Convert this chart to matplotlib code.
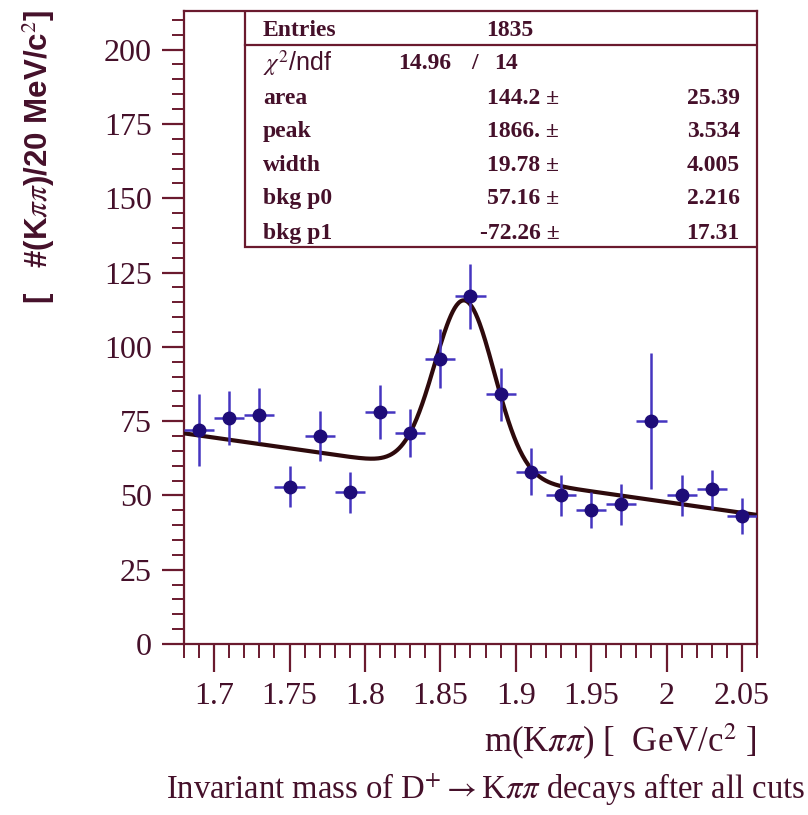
import numpy as np
import matplotlib
matplotlib.use('Agg')
import matplotlib.pyplot as plt
from matplotlib.patches import Rectangle
from matplotlib.ticker import MultipleLocator

plt.rcParams['mathtext.fontset'] = 'stix'

# bin centres (GeV) and contents
mass = [1.69, 1.71, 1.73, 1.75, 1.77, 1.79, 1.81, 1.83, 1.85, 1.87,
        1.89, 1.91, 1.93, 1.95, 1.97, 1.99, 2.01, 2.03, 2.05]
counts = [72, 76, 77, 53, 70, 51, 78, 71, 96, 117,
          84, 58, 50, 45, 47, 75, 50, 52, 43]
errors = [12, 9, 9, 7, 8.5, 7, 9, 8, 10, 11,
          9, 8, 7, 6, 7, 23, 7, 6.5, 6]
bin_half = 0.01

# fit parameters from the stats box
fit_area = 144.2
fit_peak = 1866.0      # MeV
fit_width = 19.78      # MeV
bkg_p0 = 57.16
bkg_p1 = -72.26
bkg_ref = 1.87         # GeV

stat_labels = ['area', 'peak', 'width', 'bkg p0', 'bkg p1']
stat_values = ['144.2 \u00b1', '1866. \u00b1', '19.78 \u00b1', '57.16 \u00b1', '-72.26 \u00b1']
stat_errors = ['25.39', '3.534', '4.005', '2.216', '17.31']

text_col = '#45102a'
frame_col = '#6a1a2e'
serif = 'Liberation Serif'

fig = plt.figure(figsize=(8.08, 8.15), dpi=100)
ax = fig.add_axes([0.2277, 0.2098, 0.7092, 0.7767])

# fit curve: gaussian (area per 20 MeV bin) + linear background
m = np.linspace(1.68, 2.06, 600)
amp = fit_area * 20.0 / (np.sqrt(2 * np.pi) * fit_width)
fit = bkg_p0 + bkg_p1 * (m - bkg_ref) + amp * np.exp(-0.5 * ((m * 1000 - fit_peak) / fit_width) ** 2)
ax.plot(m, fit, color='#2e0a0c', lw=3.0, zorder=3)

ax.errorbar(mass, counts, yerr=errors, xerr=bin_half, fmt='o', color='#1e0c78',
            ecolor='#4535c0', elinewidth=1.8, capsize=0, markersize=9, zorder=4)

ax.set_xlim(1.68, 2.06)
ax.set_ylim(0, 213)
ax.xaxis.set_minor_locator(MultipleLocator(0.01))
ax.yaxis.set_major_locator(MultipleLocator(25))
ax.yaxis.set_minor_locator(MultipleLocator(5))
ax.set_xticks([1.7, 1.75, 1.8, 1.85, 1.9, 1.95, 2.0, 2.05])
ax.set_xticklabels(['1.7', '1.75', '1.8', '1.85', '1.9', '1.95', '2', '2.05'])

for side in ax.spines.values():
    side.set_color(frame_col)
    side.set_linewidth(1.6)

ax.tick_params(axis='both', which='major', direction='out', width=1.6,
               color=frame_col, labelcolor=text_col, labelsize=23)
ax.tick_params(axis='both', which='minor', direction='out', width=1.4,
               color=frame_col)
ax.tick_params(axis='x', which='major', length=20, pad=7)
ax.tick_params(axis='x', which='minor', length=10)
ax.tick_params(axis='y', which='major', length=16, pad=7)
ax.tick_params(axis='y', which='minor', length=9)
for lab in ax.get_xticklabels() + ax.get_yticklabels():
    lab.set_fontfamily(serif)

# stats box
ax.add_patch(Rectangle((0.1065, 0.627), 0.8935, 0.373, transform=ax.transAxes,
                       facecolor='white', edgecolor=frame_col, lw=1.6, zorder=5))
ax.plot([0.1065, 1.0], [0.946, 0.946], transform=ax.transAxes, color=frame_col,
        lw=1.6, zorder=6)

def row_y(py):
    return (644 - py) / 633.0

box_font = dict(transform=ax.transAxes, fontsize=17, color=text_col, family=serif,
                weight='bold', va='center', zorder=7)
ax.text(0.138, row_y(30), 'Entries', **box_font)
ax.text(0.569, row_y(30), '1835', ha='center', **box_font)
ax.text(0.138, row_y(63), r'$\chi^2$/ndf', transform=ax.transAxes, fontsize=18, color=text_col,
        family='Liberation Sans', va='center', zorder=7)
ax.text(0.466, row_y(63), '14.96', ha='right', **box_font)
ax.text(0.507, row_y(63), '/', ha='center', **box_font)
ax.text(0.562, row_y(63), '14', ha='center', **box_font)

row_px = [98, 131, 165, 198, 233]
for lab, val, err, py in zip(stat_labels, stat_values, stat_errors, row_px):
    ax.text(0.138, row_y(py), lab, **box_font)
    ax.text(0.655, row_y(py), val, ha='right', **box_font)
    ax.text(0.970, row_y(py), err, ha='right', **box_font)

# axis titles
fig.text(0.048, 0.988, r'[   #(K$\pi\pi$)/20 MeV/c$^2$]', rotation=90, ha='center', va='top',
         fontsize=22.5, color=text_col, family='Liberation Sans', weight='bold')
fig.text(0.937, 0.0896, r'm(K$\pi\pi$) [  GeV/c$^2$ ]', ha='right', va='center',
         fontsize=25, color=text_col, family=serif)
fig.text(0.996, 0.032, r'Invariant mass of D$^{+}$$\rightarrow$K$\pi\pi$ decays after all cuts',
         ha='right', va='center', fontsize=23.5, color=text_col, family=serif)

fig.savefig('out.png', dpi=100)
